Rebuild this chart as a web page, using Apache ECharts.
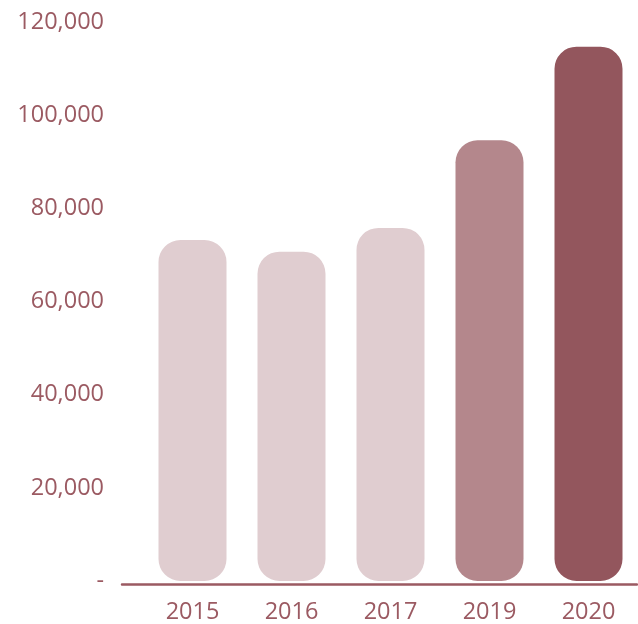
<!DOCTYPE html>
<html>
<head>
<meta charset="utf-8">
<script src="https://cdn.jsdelivr.net/npm/echarts@6/dist/echarts.min.js"></script>
<style>
html,body{margin:0;padding:0;background:#fff;}
#chart{width:638px;height:624px;}
</style>
</head>
<body>
<div id="chart"></div>
<script>
const categories = ['2015', '2016', '2017', '2019', '2020'];
const values = [73200, 70700, 75800, 94600, 114700];
const barColors = ['#e0cdd0', '#e0cdd0', '#e0cdd0', '#b4878c', '#93565d'];
const yTicks = [0, 20000, 40000, 60000, 80000, 100000, 120000];

const textColor = '#9b5a62';
const font = '"Open Sans", sans-serif';

const chart = echarts.init(document.getElementById('chart'), null, {renderer: 'canvas'});
chart.setOption({
  animation: false,
  backgroundColor: '#ffffff',
  grid: [
    {left: 143, right: 0, top: 22, bottom: 40, containLabel: false},
    {left: 122, right: 1, top: 22, bottom: 40, containLabel: false}
  ],
  xAxis: [
    {
      type: 'category', gridIndex: 0, data: categories,
      axisLine: {show: false}, axisTick: {show: false},
      axisLabel: {color: textColor, fontFamily: font, fontSize: 23.5, margin: 19}
    },
    {
      type: 'category', gridIndex: 1, data: [''],
      axisLine: {show: true, lineStyle: {color: textColor, width: 2.5}},
      axisTick: {show: false}, axisLabel: {show: false}
    }
  ],
  yAxis: [
    {
      type: 'value', gridIndex: 0, min: yTicks[0], max: yTicks[yTicks.length - 1], interval: 20000,
      splitLine: {show: false}, axisLine: {show: false}, axisTick: {show: false},
      axisLabel: {
        color: textColor, fontFamily: font, fontSize: 23.5, margin: 39,
        formatter: v => v === 0 ? '-' : v.toLocaleString('en-US')
      }
    },
    {
      type: 'value', gridIndex: 1, min: 0, max: 1, show: false
    }
  ],
  series: [{
    type: 'bar',
    xAxisIndex: 0, yAxisIndex: 0,
    barWidth: 68,
    data: values.map((v, i) => ({value: v, itemStyle: {color: barColors[i]}})),
    itemStyle: {borderRadius: 22}
  }]
});
</script>
</body>
</html>
